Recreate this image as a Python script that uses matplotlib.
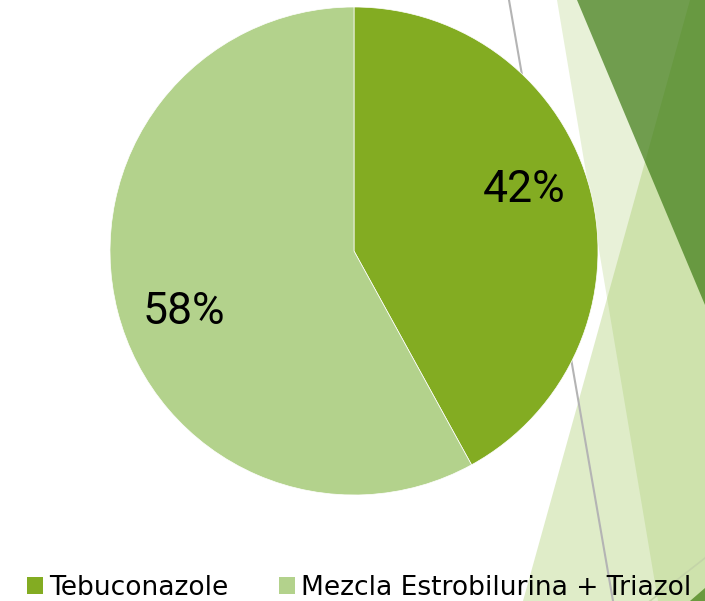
import matplotlib
matplotlib.use("Agg")
import numpy as np
import matplotlib.pyplot as plt
from matplotlib import font_manager
from matplotlib.patches import Polygon

# data
labels = ["Tebuconazole", "Mezcla Estrobilurina + Triazol"]
shares = [42, 58]
colors = ["#83ac22", "#b3d28c"]

W, H = 705, 601
cx, cy, R = 354, H - 251, 244

installed = {f.name for f in font_manager.fontManager.ttflist}
pct_font = "Liberation Sans Narrow" if "Liberation Sans Narrow" in installed else "Roboto"

fig = plt.figure(figsize=(W / 100, H / 100), dpi=100)
ax = fig.add_axes([0, 0, 1, 1])


def px(points):
    # slide pixel coords (y down) -> axes coords (y up)
    return [(x, H - y) for x, y in points]


# background slide decoration (Facet-like theme)
ax.add_patch(Polygon(px([(557, 0), (760, 0), (760, 601), (658, 601)]),
                     closed=True, facecolor="#8cbc3c", alpha=0.2, lw=0, zorder=0))
ax.add_patch(Polygon(px([(690, 0), (760, 0), (760, 601), (523, 601)]),
                     closed=True, facecolor="#8cbc3c", alpha=0.28, lw=0, zorder=0.1))
ax.add_patch(Polygon(px([(577, 0), (760, 0), (760, 330), (705, 305)]),
                     closed=True, facecolor="#3d7a14", alpha=0.7, lw=0, zorder=0.2))
ax.add_patch(Polygon(px([(690, 601), (705, 588), (705, 601)]),
                     closed=True, facecolor="#6a9a3e", lw=0, zorder=0.3))
ax.plot(*zip(*px([(509, 0), (613, 601)])), color="#b4b4b4", lw=1.5, zorder=0.4)
ax.plot(*zip(*px([(705, 558), (650, 601)])), color="#c4d4a8", lw=1.2, zorder=0.4)

wedges, texts, autotexts = ax.pie(
    shares, colors=colors, startangle=90, counterclock=False,
    center=(cx, cy), radius=R, frame=True,
    autopct="%1.0f%%", pctdistance=0.74,
    wedgeprops=dict(edgecolor="white", linewidth=0.5),
    textprops=dict(fontsize=32, family=pct_font, color="black"))
for w in wedges:
    w.set_zorder(2)

# PowerPoint puts the labels a few degrees further round than matplotlib
rot = np.deg2rad(5.3)
for t in autotexts:
    x, y = t.get_position()
    dx, dy = x - cx, y - cy
    t.set_position((cx + dx * np.cos(rot) - dy * np.sin(rot),
                    cy + dx * np.sin(rot) + dy * np.cos(rot)))
    t.set_zorder(3)

ax.set_xlim(0, W)
ax.set_ylim(0, H)
ax.axis("off")

leg = fig.legend(wedges, labels, loc="center left",
                 bbox_to_anchor=(27 / W, 1 - 588 / H), ncol=2, frameon=False,
                 fontsize=19.1, handlelength=0.6, handleheight=0.6,
                 handletextpad=0.23, columnspacing=1.92,
                 borderpad=0, borderaxespad=0)
for h in leg.legend_handles:
    h.set_edgecolor("none")

fig.savefig("out.png", dpi=100)
